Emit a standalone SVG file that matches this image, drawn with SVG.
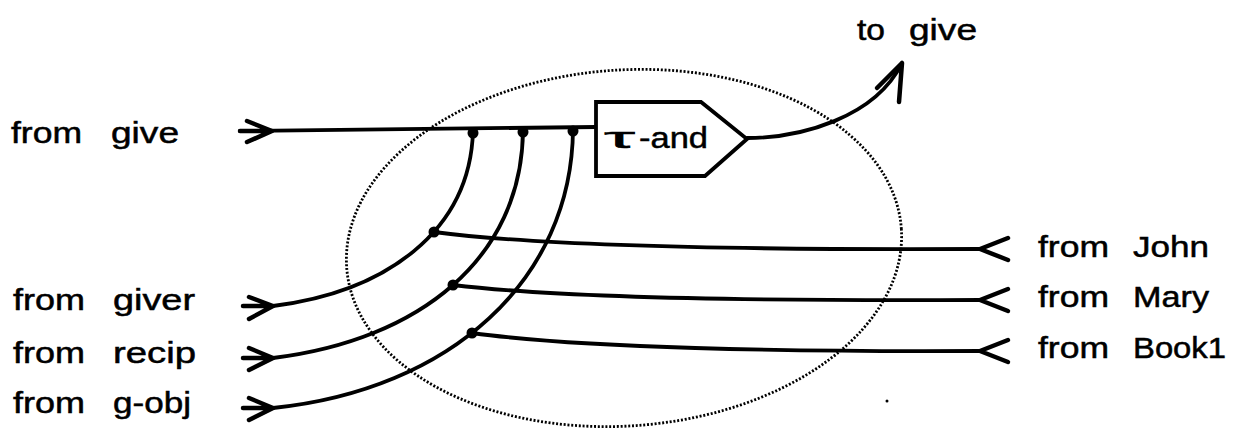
<svg xmlns="http://www.w3.org/2000/svg" width="1234" height="445" viewBox="0 0 1234 445">
<style>
  .lbl { font-family: "Liberation Sans", Arial, sans-serif; font-size: 29px; fill: #000; stroke: #000; stroke-width: 0.5; }
  .ln { fill: none; stroke: #000; stroke-width: 3.8; stroke-linecap: round; stroke-linejoin: round; }
  .ah { fill: none; stroke: #000; stroke-width: 4.5; stroke-linecap: round; stroke-linejoin: round; }
  .dot { fill: #000; }
  .scope { fill: none; stroke: #000; stroke-width: 2.8; stroke-dasharray: 2 1.8; }
</style>
<rect width="1234" height="445" fill="#fff"/>

<g id="scope">
  <ellipse class="scope" cx="624" cy="248" rx="278" ry="178" transform="rotate(-4 624 248)"/>
</g>

<g id="connectors">
  <!-- from give main line -->
  <path class="ln" d="M240,131 L596,127"/>
  <path class="ah" d="M247,121 L272,131 L247,142 M240,131 L272,131"/>
  <!-- curves to the main line -->
  <path class="ln" d="M473,131 C470,232 385,292 273,306"/>
  <path class="ln" d="M523,130 C522,258 420,340 273,358"/>
  <path class="ln" d="M573,129 C572,280 450,390 273,408"/>
  <path class="ah" d="M249,297 L273,306 L249,319 M243,306 L273,306"/>
  <path class="ah" d="M249,348 L273,358 L249,370 M243,358 L273,358"/>
  <path class="ah" d="M249,398 L273,408 L249,420 M243,408 L273,408"/>
  <!-- lines from John, Mary, Book1 -->
  <path class="ln" d="M434,232 C540,246 760,250 980,249"/>
  <path class="ln" d="M453,285 C560,298 780,301 980,300"/>
  <path class="ln" d="M472,333 C580,348 790,352 980,351"/>
  <path class="ah" d="M1008,238 L980,249 L1008,260"/>
  <path class="ah" d="M1008,289 L980,300 L1008,311"/>
  <path class="ah" d="M1008,340 L980,351 L1008,362"/>
  <!-- output to give -->
  <path class="ln" d="M747,138 C800,138 875,118 902,63"/>
  <path class="ah" d="M877,88 L902,63 L899,102"/>
  <!-- junction dots -->
  <circle class="dot" cx="473" cy="133" r="5.5"/>
  <circle class="dot" cx="523" cy="132" r="5.5"/>
  <circle class="dot" cx="573" cy="131" r="5.5"/>
  <circle class="dot" cx="434" cy="232" r="5.5"/>
  <circle class="dot" cx="453" cy="285" r="5.5"/>
  <circle class="dot" cx="472" cy="333" r="5.5"/>
</g>

<g id="tand">
  <path d="M596,102 L701,102 L747,139 L705,176 L596,176 Z" fill="#fff" stroke="#000" stroke-width="3.8" stroke-linejoin="miter"/>
  <text class="lbl" x="604" y="148" font-size="56" stroke-width="0.2" textLength="31" lengthAdjust="spacingAndGlyphs">τ</text>
  <text class="lbl" x="639" y="148" font-size="40" textLength="69" lengthAdjust="spacingAndGlyphs">-and</text>
</g>

<g id="label-from-give">
  <text class="lbl" x="11" y="143" textLength="71" lengthAdjust="spacingAndGlyphs">from</text>
  <text class="lbl" x="111" y="143" textLength="68" lengthAdjust="spacingAndGlyphs">give</text>
</g>
<g id="label-to-give">
  <text class="lbl" x="857" y="40" textLength="28" lengthAdjust="spacingAndGlyphs">to</text>
  <text class="lbl" x="909" y="40" textLength="68" lengthAdjust="spacingAndGlyphs">give</text>
</g>
<g id="label-from-giver">
  <text class="lbl" x="13" y="310" textLength="72" lengthAdjust="spacingAndGlyphs">from</text>
  <text class="lbl" x="113" y="310" textLength="82" lengthAdjust="spacingAndGlyphs">giver</text>
</g>
<g id="label-from-recip">
  <text class="lbl" x="13" y="363" textLength="72" lengthAdjust="spacingAndGlyphs">from</text>
  <text class="lbl" x="113" y="363" textLength="83" lengthAdjust="spacingAndGlyphs">recip</text>
</g>
<g id="label-from-gobj">
  <text class="lbl" x="13" y="413" textLength="72" lengthAdjust="spacingAndGlyphs">from</text>
  <text class="lbl" x="113" y="413" textLength="78" lengthAdjust="spacingAndGlyphs">g-obj</text>
</g>
<g id="label-from-john">
  <text class="lbl" x="1038" y="257" textLength="71" lengthAdjust="spacingAndGlyphs">from</text>
  <text class="lbl" x="1133" y="257" textLength="76" lengthAdjust="spacingAndGlyphs">John</text>
</g>
<g id="label-from-mary">
  <text class="lbl" x="1038" y="307" textLength="71" lengthAdjust="spacingAndGlyphs">from</text>
  <text class="lbl" x="1133" y="307" textLength="76" lengthAdjust="spacingAndGlyphs">Mary</text>
</g>
<g id="label-from-book1">
  <text class="lbl" x="1038" y="358" textLength="71" lengthAdjust="spacingAndGlyphs">from</text>
  <text class="lbl" x="1133" y="358" textLength="93" lengthAdjust="spacingAndGlyphs">Book1</text>
</g>

<circle cx="887" cy="401" r="1.5" fill="#000"/>
</svg>
